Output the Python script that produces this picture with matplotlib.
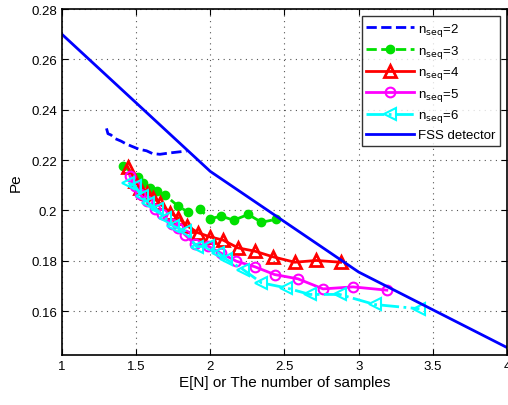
import matplotlib
matplotlib.use("Agg")
import matplotlib.pyplot as plt

plt.rcParams['font.family'] = ['Liberation Sans', 'DejaVu Sans']

x2 = [1.30, 1.31, 1.33, 1.36, 1.40, 1.43, 1.47, 1.52, 1.57, 1.61, 1.66, 1.72, 1.78, 1.84]
y2 = [0.2326, 0.2305, 0.2300, 0.2285, 0.2275, 0.2265, 0.2255, 0.2243, 0.2237, 0.2226, 0.2223, 0.2228, 0.2232, 0.2236]

x3 = [1.413, 1.514, 1.548, 1.593, 1.638, 1.694, 1.783, 1.851, 1.929, 1.997, 2.075, 2.158, 2.255, 2.345, 2.44]
y3 = [0.2176, 0.2134, 0.2110, 0.2090, 0.2077, 0.2061, 0.2017, 0.1993, 0.2004, 0.1967, 0.1977, 0.1961, 0.1984, 0.1953, 0.1964]

x4 = [1.442, 1.492, 1.525, 1.570, 1.615, 1.660, 1.727, 1.783, 1.840, 1.918, 1.997, 2.086, 2.187, 2.30, 2.42, 2.569, 2.715, 2.879]
y4 = [0.2174, 0.2117, 0.2090, 0.2070, 0.2050, 0.2028, 0.1991, 0.1971, 0.1940, 0.1911, 0.1895, 0.1882, 0.1851, 0.1838, 0.1816, 0.1794, 0.1801, 0.1794]

x5 = [1.458, 1.492, 1.525, 1.570, 1.626, 1.671, 1.739, 1.783, 1.828, 1.896, 1.985, 2.075, 2.176, 2.30, 2.434, 2.591, 2.76, 2.962, 3.19]
y5 = [0.2137, 0.2097, 0.2064, 0.2037, 0.2004, 0.1984, 0.1944, 0.1931, 0.1904, 0.1865, 0.1858, 0.1829, 0.1798, 0.1776, 0.1745, 0.1728, 0.1688, 0.1696, 0.1683]

x6 = [1.447, 1.492, 1.537, 1.581, 1.638, 1.694, 1.749, 1.828, 1.907, 1.985, 2.053, 2.109, 2.221, 2.345, 2.513, 2.67, 2.872, 3.108, 3.41]
y6 = [0.2110, 0.2097, 0.2057, 0.2031, 0.2004, 0.1971, 0.1938, 0.1918, 0.1856, 0.1858, 0.1832, 0.1805, 0.1765, 0.1712, 0.1692, 0.1666, 0.1666, 0.1626, 0.1609]

xf = [1.0, 2.0, 3.0, 4.0]
yf = [0.270, 0.2155, 0.1755, 0.1455]

xticks = [1, 1.5, 2, 2.5, 3, 3.5, 4]
xticklabels = ['1', '1.5', '2', '2.5', '3', '3.5', '4']
yticks = [0.16, 0.18, 0.20, 0.22, 0.24, 0.26, 0.28]
yticklabels = ['0.16', '0.18', '0.2', '0.22', '0.24', '0.26', '0.28']

fig = plt.figure(figsize=(5.08, 4.06), dpi=100)
ax = fig.add_axes([0.122, 0.123, 0.876, 0.852])

lw = 2.0
ax.plot(x2, y2, '--', color='#0000ff', lw=lw, label=r'n$_{\rm seq}$=2')
ax.plot(x3, y3, '--', color='#00e000', lw=lw, marker='o', ms=6, mfc='#00e000', mec='#00e000', label=r'n$_{\rm seq}$=3')
ax.plot(x4, y4, '-', color='#ff0000', lw=lw, marker='^', ms=8, mfc='none', mec='#ff0000', mew=2, label=r'n$_{\rm seq}$=4')
ax.plot(x5, y5, '-', color='#ff00ff', lw=lw, marker='o', ms=7, mfc='none', mec='#ff00ff', mew=1.5, label=r'n$_{\rm seq}$=5')
ax.plot(x6, y6, '-.', color='#00ffff', lw=lw, marker='<', ms=8, mfc='none', mec='#00ffff', mew=1.5, label=r'n$_{\rm seq}$=6')
ax.plot(xf, yf, '-', color='#0000ff', lw=lw, label='FSS detector')

ax.set_xlim(1, 4)
ax.set_ylim(0.1425, 0.28)
ax.set_xticks(xticks)
ax.set_xticklabels(xticklabels)
ax.set_yticks(yticks)
ax.set_yticklabels(yticklabels)
ax.tick_params(direction='in', top=True, right=True, labelsize=9.5, length=4)
ax.grid(True, linestyle=(0, (1, 4)), color='#555555', lw=0.8)
for s in ax.spines.values():
    s.set_linewidth(1.2)

ax.set_xlabel('E[N] or The number of samples', fontsize=11, labelpad=2)
ax.set_ylabel('Pe', fontsize=11, labelpad=6)

leg = ax.legend(loc='upper right', fontsize=9.5, frameon=True, fancybox=False,
                edgecolor='black', handlelength=3.6, borderaxespad=0.55,
                labelspacing=0.35, borderpad=0.35, handletextpad=0.3)
leg.get_frame().set_linewidth(1.0)

fig.savefig('out.png', dpi=100)
